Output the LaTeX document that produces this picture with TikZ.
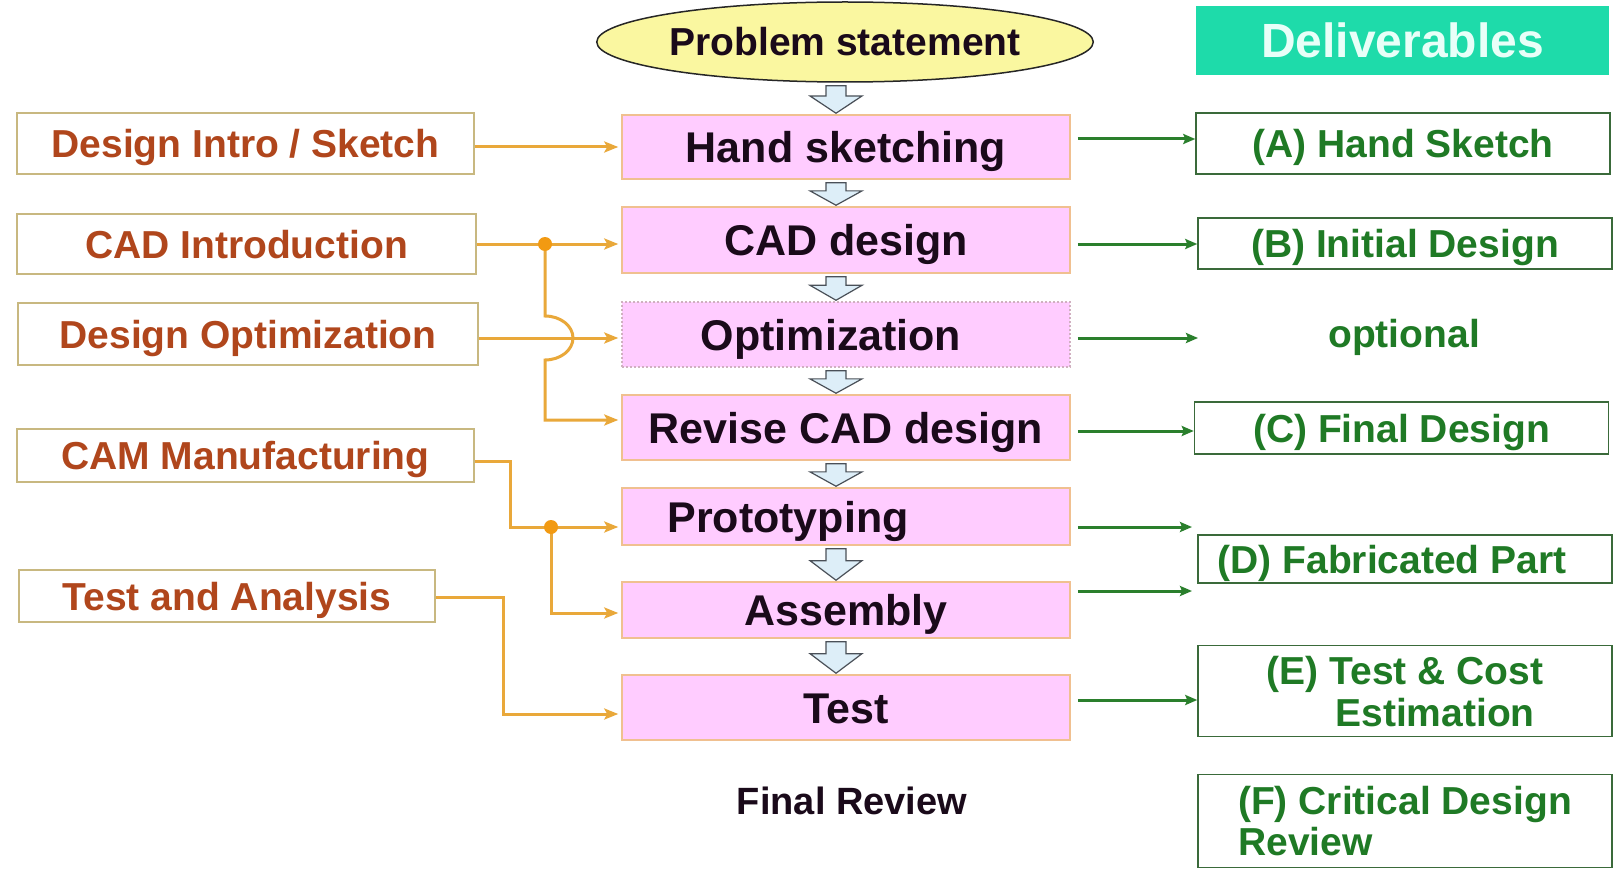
\documentclass[tikz,border=0pt]{standalone}
\usepackage{fontspec}
\setmainfont{Liberation Sans}
\usetikzlibrary{arrows.meta,calc,shapes.geometric}
\definecolor{pinkfill}{HTML}{FFCCFF}
\definecolor{pinkdraw}{HTML}{F0C090}
\definecolor{optdraw}{HTML}{D0B0C0}
\definecolor{yellowC}{HTML}{FAF7A0}
\definecolor{tealC}{HTML}{1EDBAA}
\definecolor{delivText}{HTML}{E8FFF8}
\definecolor{orangeC}{HTML}{E9A83A}
\definecolor{dotC}{HTML}{F29A12}
\definecolor{leftText}{HTML}{B0461C}
\definecolor{leftDraw}{HTML}{C8B880}
\definecolor{greenText}{HTML}{1F7A25}
\definecolor{greenLine}{HTML}{2A7F2C}
\definecolor{rightDraw}{HTML}{3A6A3A}
\definecolor{harrFill}{HTML}{DDEEF8}
\definecolor{harrDraw}{HTML}{4A5058}
\definecolor{mainText}{HTML}{1A0A1A}
\newcommand{\harr}[2]{%
  \path[harrowS] let \p1=(#1.south), \p2=(#2.north) in
   (826pt,{\y1-3pt}) -- (846pt,{\y1-3pt}) -- (846pt,{0.58*\y1+0.42*\y2}) -- (862pt,{0.58*\y1+0.42*\y2})
   -- (836pt,{\y2+1pt}) -- (810pt,{0.58*\y1+0.42*\y2}) -- (826pt,{0.58*\y1+0.42*\y2}) -- cycle;}
\begin{document}
\begin{tikzpicture}[x=1pt,y=-1pt,
  every node/.style={inner sep=0pt},
  mainbox/.style={draw=pinkdraw, fill=pinkfill, line width=1.5pt, minimum width=448pt,
    text=mainText, font=\fontsize{43}{48}\selectfont\bfseries, text height=31pt, text depth=0pt},
  leftbox/.style={draw=leftDraw, line width=1.5pt, fill=white, text=leftText,
    font=\fontsize{39}{44}\selectfont\bfseries, text height=28pt, text depth=0pt},
  rightbox/.style={draw=rightDraw, line width=1.5pt, fill=white, text=greenText, minimum width=414pt,
    font=\fontsize{39}{42}\selectfont\bfseries, text height=28pt, text depth=0pt},
  oarrow/.style={draw=orangeC, line width=3pt, shorten >=3pt, -{Stealth[length=14pt,width=11pt,inset=3pt]}},
  garrow/.style={draw=greenLine, line width=3pt, shorten <=7pt, -{Stealth[length=12pt,width=10pt,inset=2pt]}},
  harrowS/.style={fill=harrFill, draw=harrDraw, line width=1.2pt, line join=miter}
]
\fill[white] (0,0) rectangle (1624,869);
\useasboundingbox (0,0) rectangle (1624,869);

% top
\node[ellipse, draw=black!85, line width=1.5pt, fill=yellowC, minimum width=496pt, minimum height=80pt,
  font=\fontsize{39}{44}\selectfont\bfseries, text height=28pt, text depth=0pt, text=mainText] (ps) at (845,42) {Problem statement};
\node[fill=tealC, minimum width=413pt, minimum height=69pt, text=delivText,
  font=\fontsize{48}{52}\selectfont\bfseries, text height=34pt, text depth=0pt] (del) at (1402.5,40.5) {Deliverables};

% main column
\node[mainbox, minimum height=64pt] (hand) at (846,147) {Hand sketching};
\node[mainbox, minimum height=66pt] (cad) at (846,240) {CAD design};
\node[mainbox, minimum height=65pt, draw=optdraw, dash pattern=on 2pt off 2pt] (opt) at (846,334.5) {\hspace*{-30pt}Optimization};
\node[mainbox, minimum height=65pt] (rev) at (846,427.5) {Revise CAD design};
\node[mainbox, minimum height=57pt] (proto) at (846,516.5) {\hspace*{-116pt}Prototyping};
\node[mainbox, minimum height=56pt] (asm) at (846,610) {Assembly};
\node[mainbox, minimum height=65pt] (test) at (846,707.5) {Test};
\node[font=\fontsize{38}{42}\selectfont\bfseries, text=mainText, text height=27pt, text depth=0pt] (fr) at (852,801) {Final Review};

% left column
\node[leftbox, minimum width=457pt, minimum height=61pt] (din) at (245.5,143.5) {Design Intro / Sketch};
\node[leftbox, minimum width=459pt, minimum height=60pt] (cadi) at (246.5,244) {CAD Introduction};
\node[leftbox, minimum width=460pt, minimum height=62pt] (dopt) at (248,334) {Design Optimization};
\node[leftbox, minimum width=457pt, minimum height=53pt] (cam) at (245.5,455.5) {CAM Manufacturing};
\node[leftbox, minimum width=416pt, minimum height=52pt] (ta) at (227,596) {Test and Analysis};

% right column
\node[rightbox, minimum height=61pt] (A) at (1403,143.5) {(A) Hand Sketch};
\node[rightbox, minimum height=51pt] (B) at (1405,243.5) {(B) Initial Design};
\node[text=greenText, font=\fontsize{39}{42}\selectfont\bfseries, text height=28pt, text depth=0pt] (optl) at (1404,333) {optional};
\node[rightbox, minimum height=52pt] (C) at (1401.5,428) {(C) Final Design};
\node[rightbox, minimum height=48pt] (D) at (1405,559) {\hspace*{-26pt}(D) Fabricated Part};
\node[rightbox, minimum height=91pt, align=center, text height=70pt, text depth=0pt] (E) at (1405,691) {(E) Test \& Cost\\\hspace*{60pt}Estimation};
\node[rightbox, minimum height=93pt, align=left, text height=69pt, text depth=0pt, font=\fontsize{39}{41}\selectfont\bfseries] (F) at (1405,821) {(F) Critical Design\\Review};

% hollow arrows
\harr{ps}{hand}
\harr{hand}{cad}
\harr{cad}{opt}
\harr{opt}{rev}
\harr{rev}{proto}
\harr{proto}{asm}
\harr{asm}{test}

% orange connectors
\coordinate (j1) at (545,244);
\coordinate (j2) at (551,527);
\draw[oarrow] (din.east |- 0,147) -- (hand.west |- 0,147);
\draw[oarrow] (cadi.east |- 0,244) -- (cad.west |- 0,244);
\draw[oarrow] (dopt.east |- 0,338) -- (opt.west |- 0,338);
\draw[oarrow] (j1) -- ++(0,72) arc[start angle=90,end angle=-90,x radius=28pt,y radius=22pt] |- (rev.west |- 0,420);
\fill[dotC] (j1) circle[radius=7pt];
\draw[oarrow] (cam.east |- 0,461) -- ++(36,0) |- (proto.west |- 0,527);
\draw[oarrow] (j2) |- (asm.west |- 0,613);
\fill[dotC] (j2) circle[radius=7pt];
\draw[oarrow] (ta.east |- 0,597) -- ++(68,0) |- (test.west |- 0,714);

% green connectors
\coordinate (optend) at (1198,338);
\coordinate (protoend) at (1192,527);
\coordinate (asmend) at (1192,591);
\draw[garrow] (hand.east |- 0,139) -- (A.west |- 0,139);
\draw[garrow] (cad.east |- 0,244) -- (B.west |- 0,244);
\draw[garrow] (opt.east |- 0,338) -- (optend);
\draw[garrow] (rev.east |- 0,431) -- (C.west |- 0,431);
\draw[garrow] (proto.east |- 0,527) -- (protoend);
\draw[garrow] (asm.east |- 0,591) -- (asmend);
\draw[garrow] (test.east |- 0,700) -- (E.west |- 0,700);
\end{tikzpicture}
\end{document}
